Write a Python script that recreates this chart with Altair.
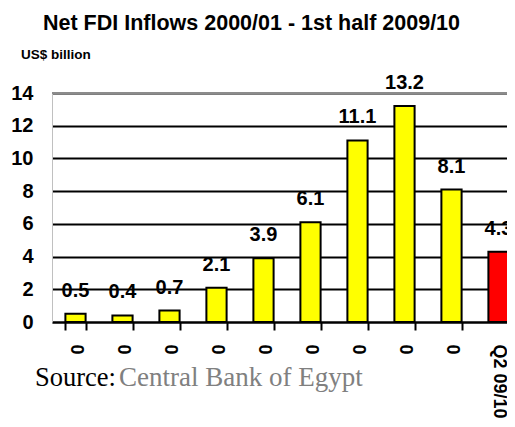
import altair as alt
import pandas as pd

# ---- data ----
categories = ["2000/01", "2001/02", "2002/03", "2003/04", "2004/05",
              "2005/06", "2006/07", "2007/08", "2008/09", "Q2 09/10"]
tick_labels = ["0", "0", "0", "0", "0", "0", "0", "0", "0", "Q2 09/10"]
values = [0.5, 0.4, 0.7, 2.1, 3.9, 6.1, 11.1, 13.2, 8.1, 4.3]
value_labels = ["0.5", "0.4", "0.7", "2.1", "3.9", "6.1", "11.1", "13.2", "8.1", "4.3"]
bar_colors = ["#FFFF00"] * 9 + ["#FF0000"]
y_ticks = [0, 2, 4, 6, 8, 10, 12, 14]

title_text = "Net FDI Inflows 2000/01 - 1st half 2009/10"
unit_text = "US$ billion"
source_label = "Source:"
source_name = "Central Bank of Egypt"

df = pd.DataFrame({
    "category": categories,
    "value": values,
    "label": value_labels,
    "color": bar_colors,
})

label_map = "{" + ",".join(f"'{c}':'{t}'" for c, t in zip(categories, tick_labels)) + "}"

FONT = "Liberation Sans"

x_scale = alt.Scale(range=[0, 470], paddingInner=0.57, paddingOuter=0.285)
x_axis = alt.Axis(
    labelExpr=f"{label_map}[datum.value]",
    labelAngle=90,
    labelAlign="left",
    labelBaseline="middle",
    labelFont=FONT,
    labelFontWeight="bold",
    labelFontSize=18,
    labelColor="black",
    labelPadding=14,
    labelOverlap=False,
    labelLimit=200,
    domainColor="black",
    domainWidth=2,
    tickColor="black",
    tickWidth=2,
    tickSize=8,
    tickBand="extent",
    grid=False,
)

y_scale = alt.Scale(domain=[0, 14], nice=False)
y_axis = alt.Axis(
    values=y_ticks,
    labelFont=FONT,
    labelFontWeight="bold",
    labelFontSize=20,
    labelColor="black",
    labelPadding=19,
    labelOverlap=False,
    ticks=False,
    domainColor="#c0c0c0",
    domainWidth=1,
    grid=True,
    gridColor="black",
    gridWidth=2,
)

x_enc = alt.X("category:N", sort=categories, title=None, scale=x_scale, axis=x_axis)
y_enc = alt.Y("value:Q", scale=y_scale, title=None, axis=y_axis)

bars = alt.Chart(df).mark_bar(stroke="black", strokeWidth=2).encode(
    x=x_enc,
    y=y_enc,
    color=alt.Color("color:N", scale=None, legend=None),
)

labels = alt.Chart(df).mark_text(
    font=FONT, fontWeight="bold", fontSize=20, color="black",
    baseline="middle", align="center", dy=-23,
).encode(
    x=x_enc,
    y=y_enc,
    text="label:N",
)

# gray top border line at 14
top_line = alt.Chart(pd.DataFrame({"value": [y_ticks[-1]]})).mark_rule(
    color="#8c8c8c", strokeWidth=2
).encode(y=y_enc, x=alt.value(0), x2=alt.value(470))

title = alt.Chart(pd.DataFrame({"t": [title_text]})).mark_text(
    font=FONT, fontWeight="bold", fontSize=21.5, color="black",
    align="left", baseline="alphabetic",
).encode(x=alt.value(-9), y=alt.value(-63), text="t:N")

unit = alt.Chart(pd.DataFrame({"t": [unit_text]})).mark_text(
    font=FONT, fontWeight="bold", fontSize=13.5, color="black",
    align="left", baseline="alphabetic",
).encode(x=alt.value(-31), y=alt.value(-34), text="t:N")

src1 = alt.Chart(pd.DataFrame({"t": [source_label]})).mark_text(
    font="Liberation Serif", fontSize=26.5, color="black",
    align="left", baseline="alphabetic",
).encode(x=alt.value(-17), y=alt.value(293), text="t:N")

src2 = alt.Chart(pd.DataFrame({"t": [source_name]})).mark_text(
    font="Liberation Serif", fontSize=27, color="#808080",
    align="left", baseline="alphabetic",
).encode(x=alt.value(67), y=alt.value(293), text="t:N")

chart = alt.layer(bars, top_line, labels, title, unit, src1, src2).properties(
    width=455,
    height=229,
    autosize=alt.AutoSizeParams(type="none"),
    padding={"left": 44, "top": 85, "right": 0, "bottom": 96},
    background="white",
).configure_view(stroke=None)

chart.save("out.html", embed_options={"renderer": "svg", "actions": False})
